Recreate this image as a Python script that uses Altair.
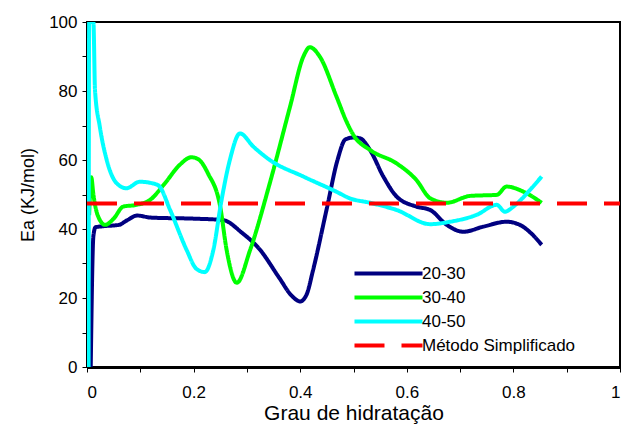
import altair as alt
import pandas as pd

# Degree of hydration (x) and activation energy Ea in kJ/mol (y) for each temperature range
x_20_30 = [0.007, 0.012, 0.016, 0.03, 0.06, 0.075, 0.094, 0.12, 0.2, 0.255, 0.29, 0.325,
           0.36, 0.385, 0.40, 0.412, 0.424, 0.45, 0.47, 0.485, 0.50, 0.512, 0.531, 0.556,
           0.581, 0.618, 0.644, 0.675, 0.706, 0.744, 0.787, 0.812, 0.835, 0.853]
y_20_30 = [0, 38, 40.5, 40.8, 41.2, 42.5, 43.9, 43.3, 43.0, 42.6, 39, 33.9,
           26, 20.5, 19, 21, 28, 46, 60, 66, 66.5, 66.3, 62.9, 55.2,
           49.4, 46.5, 45.5, 41.2, 39.2, 40.7, 42.1, 41.2, 38.5, 35.4]

x_30_40 = [0.004, 0.008, 0.012, 0.02, 0.034, 0.05, 0.068, 0.093, 0.118, 0.145, 0.174, 0.196,
           0.209, 0.227, 0.25, 0.262, 0.281, 0.306, 0.343, 0.381, 0.406, 0.418, 0.437, 0.468,
           0.487, 0.50, 0.531, 0.581, 0.618, 0.644, 0.675, 0.719, 0.769, 0.787, 0.819, 0.853]
y_30_40 = [44, 55, 50, 44, 41.2, 43, 46.5, 47, 48.4, 53, 58.6, 60.8,
           60.2, 56.1, 46.4, 33.9, 24.4, 33.9, 53.3, 75.5, 90, 92.7, 89.9, 78.4,
           71.1, 67.2, 62.9, 59, 54.2, 48.9, 47.6, 49.6, 49.9, 52.3, 50.8, 47.6]

x_40_50 = [0.003, 0.004, 0.012, 0.015, 0.024, 0.037, 0.056, 0.074, 0.099, 0.124, 0.135, 0.156,
           0.187, 0.205, 0.221, 0.237, 0.252, 0.268, 0.287, 0.312, 0.343, 0.406, 0.468, 0.493,
           0.531, 0.581, 0.644, 0.681, 0.731, 0.769, 0.784, 0.80, 0.831, 0.853]
y_40_50 = [0, 100, 100, 80.3, 69.7, 60, 53.2, 51.8, 53.7, 53.2, 52.5, 45.5,
           33.9, 28.5, 27.5, 33.9, 48, 60, 67.7, 63.9, 60, 55.2, 50.8, 48.9,
           47.6, 45.5, 41.4, 42.1, 44.1, 47, 45, 46.5, 51.3, 55.2]

# Simplified method: a single constant activation energy
x_simpl = [0.0, 1.0]
y_simpl = [47.4, 47.4]

series_names = ["20-30", "30-40", "40-50", "Método Simplificado"]
series_colors = ["#000080", "#00ff00", "#00ffff", "#ff0000"]
series_dash = [[1, 0], [1, 0], [1, 0], [30, 17]]

frames = []
for order, (name, xs, ys) in enumerate([
    ("20-30", x_20_30, y_20_30),
    ("30-40", x_30_40, y_30_40),
    ("40-50", x_40_50, y_40_50),
    ("Método Simplificado", x_simpl, y_simpl),
]):
    frames.append(pd.DataFrame({"grau": xs, "ea": ys, "serie": name, "ordem": order}))
data = pd.concat(frames, ignore_index=True)

font = "Liberation Sans"

# Wide horizontal stroke as legend symbol: path spans three times the nominal size
# on each side, so rows stay compact while the sample line is long.
legend = alt.Legend(
    title=None,
    orient="none",
    legendX=288,
    legendY=238,
    padding=0,
    symbolType="M-3,0H3",
    symbolSize=514,
    symbolStrokeWidth=4,
    symbolFillColor="transparent",
    labelFont=font,
    labelFontSize=17,
    labelLimit=300,
    labelColor="black",
    rowPadding=2,
    labelOffset=20,
)

chart = alt.Chart(data).mark_line(strokeWidth=4, clip=True, interpolate="monotone").encode(
    x=alt.X(
        "grau:Q",
        scale=alt.Scale(domain=[0, 1], nice=False),
        axis=alt.Axis(
            title="Grau de hidratação",
            values=[round(i * 0.1, 1) for i in range(11)],
            labelExpr="round(datum.value * 10) % 2 == 0 ? format(datum.value, '~g') : ''",
            grid=False,
        ),
    ),
    y=alt.Y(
        "ea:Q",
        scale=alt.Scale(domain=[0, 100], nice=False),
        axis=alt.Axis(
            title="Ea (KJ/mol)",
            values=list(range(0, 101, 10)),
            labelExpr="datum.value % 20 == 0 ? datum.label : ''",
            grid=False,
        ),
    ),
    color=alt.Color(
        "serie:N",
        scale=alt.Scale(domain=series_names, range=series_colors),
        legend=legend,
    ),
    strokeDash=alt.StrokeDash(
        "serie:N",
        scale=alt.Scale(domain=series_names, range=series_dash),
        legend=legend,
    ),
    order="ordem:Q",
).properties(
    width=533,
    height=345,
    autosize=alt.AutoSizeParams(type="none"),
    padding={"left": 87, "top": 22, "right": 2, "bottom": 59},
).configure_view(
    stroke="black",
    strokeWidth=2,
).configure_axis(
    domainColor="black",
    domainWidth=2,
    tickColor="black",
    tickSize=5,
    tickWidth=1,
    labelFont=font,
    labelFontSize=17,
    labelColor="black",
    titleFont=font,
    titleFontSize=21,
    titleFontWeight="normal",
    titleColor="black",
).configure_axisX(
    labelPadding=12,
    titlePadding=2,
    domainWidth=3,
).configure_axisY(
    labelPadding=5,
    titlePadding=11,
    titleFontSize=18,
)

chart.save("out.html", embed_options={"renderer": "svg", "actions": False})
